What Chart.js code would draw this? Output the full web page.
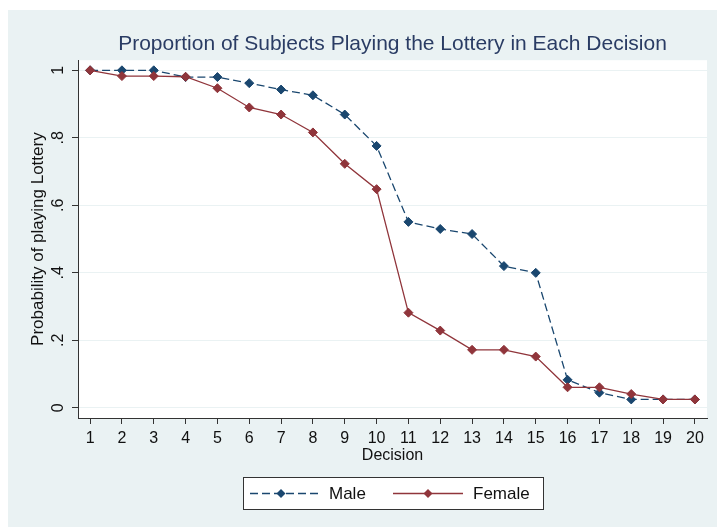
<!DOCTYPE html>
<html>
<head>
<meta charset="utf-8">
<script src="https://cdn.jsdelivr.net/npm/chart.js@4/dist/chart.umd.min.js"></script>
<style>
  body { margin: 0; background: #fff; }
  canvas { display: block; }
</style>
</head>
<body>
<canvas id="lotteryChart" width="717" height="527"></canvas>
<script>
// data
const decisions = [1, 2, 3, 4, 5, 6, 7, 8, 9, 10, 11, 12, 13, 14, 15, 16, 17, 18, 19, 20];
const maleShare = [1, 1, 1, 0.98, 0.98, 0.962, 0.943, 0.926, 0.869, 0.776, 0.551, 0.53, 0.515, 0.42, 0.4, 0.083, 0.045, 0.025, 0.025, 0.025];
const femaleShare = [1, 0.983, 0.983, 0.981, 0.947, 0.89, 0.869, 0.816, 0.723, 0.648, 0.282, 0.229, 0.172, 0.172, 0.152, 0.061, 0.061, 0.041, 0.025, 0.025];
const yTicks = [0, 0.2, 0.4, 0.6, 0.8, 1];
const yTickLabels = ['0', '.2', '.4', '.6', '.8', '1'];
const seriesNames = ['Male', 'Female'];

const maleColor = '#1a476f';
const femaleColor = '#90353b';
const bgColor = '#eaf2f3';
const fontFamily = '"Liberation Sans", Arial, sans-serif';

function toPoints(values) {
    return decisions.map((d, i) => ({ x: d, y: values[i] }));
}

// backgrounds: white frame, light blue-gray page, white plot region
const backgroundPlugin = {
    id: 'stataBackground',
    beforeDraw(chart) {
        const ctx = chart.ctx;
        const area = chart.chartArea;
        ctx.save();
        ctx.fillStyle = '#ffffff';
        ctx.fillRect(0, 0, chart.width, chart.height);
        ctx.fillStyle = bgColor;
        ctx.fillRect(8, 10, chart.width - 8, chart.height - 10);
        ctx.fillStyle = '#ffffff';
        ctx.fillRect(area.left, area.top, area.right - area.left, area.bottom - area.top);
        ctx.restore();
    }
};

function drawDiamond(ctx, x, y, r, color) {
    ctx.beginPath();
    ctx.moveTo(x, y - r);
    ctx.lineTo(x + r, y);
    ctx.lineTo(x, y + r);
    ctx.lineTo(x - r, y);
    ctx.closePath();
    ctx.fillStyle = color;
    ctx.fill();
}

// boxed legend under the axis, line + marker for each series
const boxLegendPlugin = {
    id: 'boxLegend',
    afterDraw(chart) {
        const ctx = chart.ctx;
        const boxX = 243.5, boxY = 477.5, boxW = 300, boxH = 32;
        const midY = boxY + boxH / 2;
        ctx.save();
        ctx.fillStyle = '#ffffff';
        ctx.fillRect(boxX, boxY, boxW, boxH);
        ctx.strokeStyle = '#333333';
        ctx.lineWidth = 1;
        ctx.strokeRect(boxX, boxY, boxW, boxH);

        // Male
        ctx.strokeStyle = maleColor;
        ctx.lineWidth = 1.3;
        ctx.setLineDash([8, 4]);
        ctx.beginPath();
        ctx.moveTo(250, midY);
        ctx.lineTo(318, midY);
        ctx.stroke();
        drawDiamond(ctx, 281, midY, 4.5, maleColor);

        // Female
        ctx.setLineDash([]);
        ctx.strokeStyle = femaleColor;
        ctx.beginPath();
        ctx.moveTo(393, midY);
        ctx.lineTo(463, midY);
        ctx.stroke();
        drawDiamond(ctx, 428, midY, 4.5, femaleColor);

        ctx.fillStyle = '#111111';
        ctx.font = '17px ' + fontFamily;
        ctx.textBaseline = 'middle';
        ctx.textAlign = 'left';
        ctx.fillText(seriesNames[0], 329, midY + 1);
        ctx.fillText(seriesNames[1], 473, midY + 1);
        ctx.restore();
    }
};

const ctx = document.getElementById('lotteryChart').getContext('2d');
const lotteryChart = new Chart(ctx, {
    type: 'line',
    data: {
        datasets: [{
            label: seriesNames[0],
            data: toPoints(maleShare),
            borderColor: maleColor,
            backgroundColor: maleColor,
            borderWidth: 1.3,
            borderDash: [8, 4],
            pointStyle: 'rectRot',
            pointRadius: 4.5,
            pointBorderWidth: 1,
            fill: false,
            tension: 0,
            order: 2
        }, {
            label: seriesNames[1],
            data: toPoints(femaleShare),
            borderColor: femaleColor,
            backgroundColor: femaleColor,
            borderWidth: 1.3,
            pointStyle: 'rectRot',
            pointRadius: 4.5,
            pointBorderWidth: 1,
            fill: false,
            tension: 0,
            order: 1
        }]
    },
    options: {
        responsive: false,
        animation: false,
        layout: {
            padding: { left: 8, top: 10, right: 10, bottom: 59 }
        },
        scales: {
            x: {
                type: 'linear',
                min: 0.62,
                max: 20.38,
                afterBuildTicks: scale => { scale.ticks = decisions.map(v => ({ value: v })); },
                afterFit: scale => { scale.height = 50; },
                grid: {
                    drawOnChartArea: false,
                    drawTicks: true,
                    tickLength: 6,
                    tickColor: '#333333'
                },
                border: { display: true, color: '#333333', width: 1 },
                ticks: {
                    color: '#111111',
                    padding: 5,
                    maxRotation: 0,
                    autoSkip: false,
                    font: { family: fontFamily, size: 16 }
                },
                title: {
                    display: true,
                    text: 'Decision',
                    color: '#111111',
                    padding: { top: 0, bottom: 3 },
                    font: { family: fontFamily, size: 16 }
                }
            },
            y: {
                min: -0.03,
                max: 1.03,
                afterBuildTicks: scale => { scale.ticks = yTicks.map(v => ({ value: v })); },
                afterFit: scale => { scale.width = 70; },
                grid: {
                    color: bgColor,
                    lineWidth: 1,
                    drawTicks: true,
                    tickLength: 6,
                    tickColor: '#333333'
                },
                border: { display: true, color: '#333333', width: 1 },
                ticks: {
                    color: '#111111',
                    padding: 7,
                    minRotation: 90,
                    maxRotation: 90,
                    crossAlign: 'center',
                    font: { family: fontFamily, size: 16 },
                    callback: (value, index) => yTickLabels[index]
                },
                title: {
                    display: true,
                    text: 'Probability of playing Lottery',
                    color: '#111111',
                    padding: { top: 20, bottom: 0 },
                    font: { family: fontFamily, size: 17 }
                }
            }
        },
        plugins: {
            legend: { display: false },
            tooltip: { enabled: false },
            title: {
                display: true,
                text: 'Proportion of Subjects Playing the Lottery in Each Decision',
                fullSize: false,
                color: '#2a3c64',
                padding: { top: 22, bottom: 3 },
                font: { family: fontFamily, size: 21, weight: 'normal' }
            }
        }
    },
    plugins: [backgroundPlugin, boxLegendPlugin]
});
</script>
</body>
</html>
